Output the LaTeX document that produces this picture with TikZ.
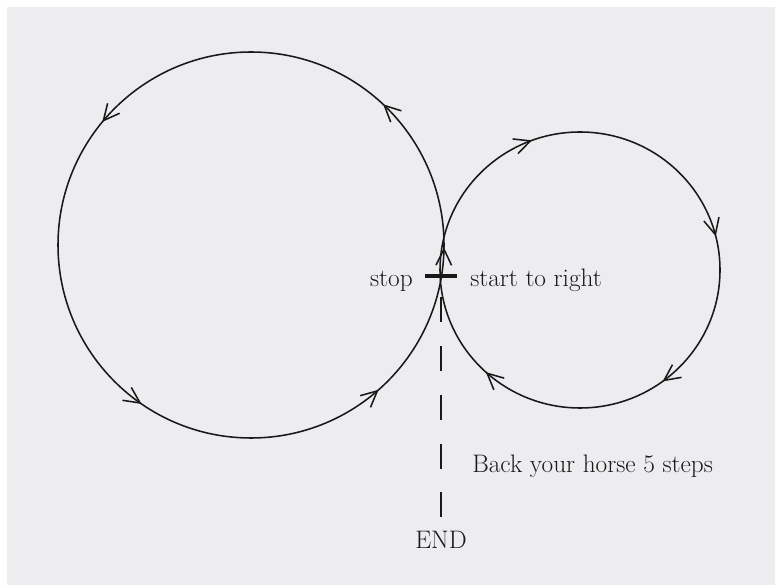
\documentclass[tikz,border=0pt]{standalone}
\usepackage{fontspec}
\usepackage{tikz}
\usetikzlibrary{arrows.meta,decorations.markings}
\definecolor{paper}{RGB}{237,237,240}
\definecolor{ink}{RGB}{25,25,25}

\begin{document}
\begin{tikzpicture}[
  x=0.025cm, y=0.025cm,
  font=\fontsize{18}{21}\selectfont,
  ring/.style={draw=ink, line width=1.1pt},
  barb at/.style={postaction={decorate, decoration={markings,
      mark=at position #1 with {\arrow{Straight Barb[length=4mm, width=3.9mm]}}}}},
  lbl/.style={inner sep=0pt, text=ink},
  dashline/.style={draw=ink, line width=1.1pt, dash pattern=on 0.625cm off 0.595cm}]
\fill[white] (0,0) rectangle (775,585);
\fill[paper] (7,0) rectangle (775,578);
\useasboundingbox (0,0) rectangle (775,585);
\coordinate (cL) at (251,340);
\coordinate (cR) at (580,315);
\draw[ring, barb at/.list={0.115,0.248,0.380,0.640,0.904}]
  (cL) ++(0,-193) arc[start angle=-90, end angle=270, radius=193];
\draw[ring, barb at/.list={0.194,0.461,0.649,0.868}]
  (cR) ++(-140,0) arc[start angle=180, end angle=-180, x radius=140, y radius=138];
\node[fill=ink, inner sep=0pt, minimum width=0.8cm, minimum height=2.2pt] (bar) at (441,309) {};
\node[lbl, anchor=base east] (stop) at (413,298) {stop};
\node[lbl, anchor=base west] (start) at (470,298) {start to right};
\node[lbl, anchor=base west] (back) at (472,112) {Back your horse 5 steps};
\node[lbl, anchor=base] (finish) at (441,36) {END};
\draw[dashline, shorten <=0.485cm, shorten >=0.37cm] (bar) -- (finish);
\end{tikzpicture}
\end{document}
